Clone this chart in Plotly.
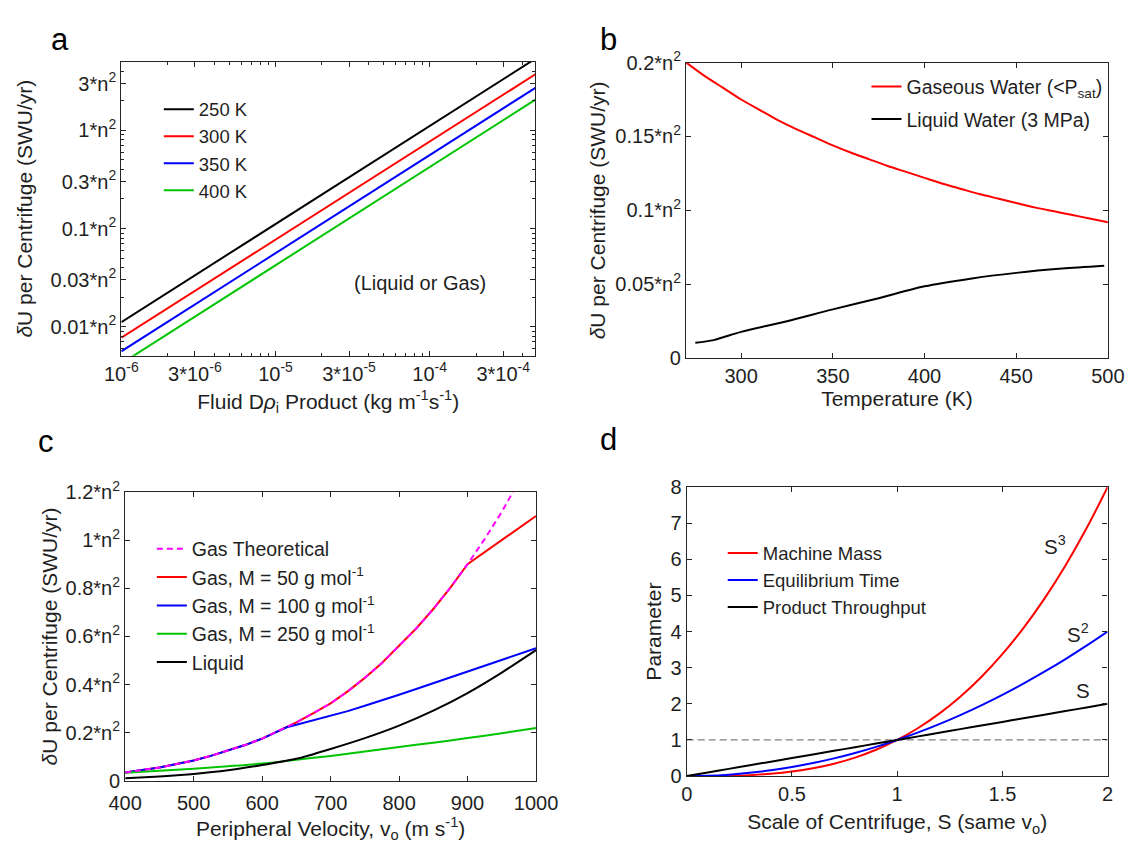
import math
import plotly.graph_objects as go

FONT = "Liberation Sans, Arial, sans-serif"
INK = "#1f1f1f"
W, H = 1146, 857

# ---------------- panel a: log-log, separative power vs D*rho ----------------
DRHO = [1e-6, 5e-4]
DU_250K = [0.0111, 5.55]
DU_300K = [0.0077, 3.85]
DU_350K = [0.0056, 2.80]
DU_400K = [0.0042, 2.12]
A_XTICKS = [1e-6, 3e-6, 1e-5, 3e-5, 1e-4, 3e-4]
A_XLABELS = ["10<sup>-6</sup>", "3*10<sup>-6</sup>", "10<sup>-5</sup>",
             "3*10<sup>-5</sup>", "10<sup>-4</sup>", "3*10<sup>-4</sup>"]
A_YTICKS = [0.01, 0.03, 0.1, 0.3, 1, 3]
A_YLABELS = ["0.01*n<sup>2</sup>", "0.03*n<sup>2</sup>", "0.1*n<sup>2</sup>",
             "0.3*n<sup>2</sup>", "1*n<sup>2</sup>", "3*n<sup>2</sup>"]

# ---------------- panel b: water, gas vs liquid ----------------
T_GAS = [270, 280, 290, 300, 310, 320, 330, 340, 350, 360, 370, 380,
         390, 400, 410, 420, 430, 440, 450, 460, 470, 480, 490, 500]
DU_GAS_WATER = [0.200, 0.191, 0.183, 0.175, 0.168, 0.161, 0.155, 0.1495, 0.144, 0.139,
                0.1345, 0.130, 0.126, 0.122, 0.118, 0.1145, 0.111, 0.108, 0.105, 0.102,
                0.0995, 0.097, 0.0945, 0.092]
T_LIQ = [275, 285, 300, 325, 350, 375, 400, 425, 450, 475, 498]
DU_LIQ_WATER = [0.0104, 0.0122, 0.0178, 0.0250, 0.0330, 0.0405, 0.0486, 0.0538, 0.0577, 0.0606, 0.0625]
B_YTICKS = [0, 0.05, 0.1, 0.15, 0.2]
B_YLABELS = ["0", "0.05*n<sup>2</sup>", "0.1*n<sup>2</sup>", "0.15*n<sup>2</sup>", "0.2*n<sup>2</sup>"]

# ---------------- panel c: peripheral velocity ----------------
V_THEORY = [400, 425, 450, 475, 500, 525, 550, 575, 600, 625, 650, 675, 700,
            725, 750, 775, 800, 825, 850, 875, 900, 925, 950, 975, 1000]
GAS_THEORY = [0.035, 0.045, 0.056, 0.070, 0.085, 0.104, 0.125, 0.149, 0.176, 0.208,
              0.243, 0.282, 0.322, 0.372, 0.428, 0.490, 0.560, 0.633, 0.714, 0.803,
              0.900, 1.004, 1.117, 1.240, 1.372]
V_M50 = [400, 425, 450, 475, 500, 525, 550, 575, 600, 625, 650, 675, 700,
         725, 750, 775, 800, 825, 850, 875, 900, 1000]
GAS_M50 = [0.035, 0.045, 0.056, 0.070, 0.085, 0.104, 0.125, 0.149, 0.176, 0.208,
           0.243, 0.282, 0.322, 0.372, 0.428, 0.490, 0.560, 0.633, 0.714, 0.803,
           0.900, 1.100]
V_M100 = [400, 425, 450, 475, 500, 525, 550, 575, 600, 625, 636, 650, 675, 700,
          725, 750, 775, 800, 825, 850, 875, 900, 925, 950, 975, 1000]
GAS_M100 = [0.035, 0.045, 0.056, 0.070, 0.085, 0.104, 0.125, 0.149, 0.176, 0.208,
            0.223, 0.233, 0.251, 0.270, 0.290, 0.312, 0.334, 0.358, 0.382, 0.406,
            0.431, 0.456, 0.480, 0.504, 0.527, 0.551]
V_STEP = [400, 450, 500, 550, 600, 650, 700, 750, 800, 850, 900, 950, 1000]
GAS_M250 = [0.034, 0.042, 0.051, 0.061, 0.072, 0.088, 0.104, 0.122, 0.141, 0.159, 0.178, 0.198, 0.220]
LIQUID = [0.011, 0.019, 0.029, 0.044, 0.066, 0.092, 0.133, 0.178, 0.230, 0.292, 0.365, 0.450, 0.543]
C_YTICKS = [0, 0.2, 0.4, 0.6, 0.8, 1.0, 1.2]
C_YLABELS = ["0", "0.2*n<sup>2</sup>", "0.4*n<sup>2</sup>", "0.6*n<sup>2</sup>",
             "0.8*n<sup>2</sup>", "1*n<sup>2</sup>", "1.2*n<sup>2</sup>"]

# ---------------- panel d: scaling with machine size ----------------
S_SCALE = [0, 0.1, 0.2, 0.3, 0.4, 0.5, 0.6, 0.7, 0.8, 0.9, 1.0,
           1.1, 1.2, 1.3, 1.4, 1.5, 1.6, 1.7, 1.8, 1.9, 2.0]
MACHINE_MASS = [0, 0.001, 0.008, 0.027, 0.064, 0.125, 0.216, 0.343, 0.512, 0.729, 1.0,
                1.331, 1.728, 2.197, 2.744, 3.375, 4.096, 4.913, 5.832, 6.859, 8.0]
EQUIL_TIME = [0, 0.01, 0.04, 0.09, 0.16, 0.25, 0.36, 0.49, 0.64, 0.81, 1.0,
              1.21, 1.44, 1.69, 1.96, 2.25, 2.56, 2.89, 3.24, 3.61, 4.0]
THROUGHPUT = [0, 0.1, 0.2, 0.3, 0.4, 0.5, 0.6, 0.7, 0.8, 0.9, 1.0,
              1.1, 1.2, 1.3, 1.4, 1.5, 1.6, 1.7, 1.8, 1.9, 2.0]
REF_LEVEL = [1, 1]
REF_SPAN = [0, 2]

RED, BLUE, GREEN, BLACK, MAGENTA = "#ff0000", "#0000ff", "#00c400", "#000000", "#ff00ff"
LW = 2


def dom_x(left, right):
    return [left / W, right / W]


def dom_y(top, bottom):
    return [1 - bottom / H, 1 - top / H]


def decade_minors(lo_exp, hi_exp, lo, hi, skip=(1,)):
    vals = []
    for e in range(lo_exp, hi_exp + 1):
        for m in range(1, 10):
            if m in skip:
                continue
            v = m * 10.0 ** e
            if lo <= v <= hi:
                vals.append(v)
    return vals


fig = go.Figure()

# panel a
for name, ys, col in [("250 K", DU_250K, BLACK), ("300 K", DU_300K, RED),
                      ("350 K", DU_350K, BLUE), ("400 K", DU_400K, GREEN)]:
    fig.add_trace(go.Scatter(x=DRHO, y=ys, mode="lines", name=name,
                             line=dict(color=col, width=LW),
                             xaxis="x", yaxis="y", legend="legend"))

# panel b
fig.add_trace(go.Scatter(x=T_GAS, y=DU_GAS_WATER, mode="lines",
                         name="Gaseous Water (&lt;P<sub>sat</sub>)",
                         line=dict(color=RED, width=LW, shape="spline", smoothing=0.6),
                         xaxis="x2", yaxis="y2", legend="legend2", legendgroup="gw"))
fig.add_trace(go.Scatter(x=T_LIQ, y=DU_LIQ_WATER, mode="lines",
                         name="Liquid Water (3 MPa)",
                         line=dict(color=BLACK, width=LW, shape="spline", smoothing=0.8),
                         xaxis="x2", yaxis="y2", legend="legend2", legendgroup="lw"))

# panel c (theoretical dashes drawn last so they sit on top)
fig.add_trace(go.Scatter(x=V_M50, y=GAS_M50, mode="lines",
                         name="Gas, M = 50 g mol<sup>-1</sup>", legendrank=2,
                         line=dict(color=RED, width=LW),
                         xaxis="x3", yaxis="y3", legend="legend3"))
fig.add_trace(go.Scatter(x=V_M100, y=GAS_M100, mode="lines",
                         name="Gas, M = 100 g mol<sup>-1</sup>", legendrank=3,
                         line=dict(color=BLUE, width=LW),
                         xaxis="x3", yaxis="y3", legend="legend3"))
fig.add_trace(go.Scatter(x=V_STEP, y=GAS_M250, mode="lines",
                         name="Gas, M = 250 g mol<sup>-1</sup>", legendrank=4,
                         line=dict(color=GREEN, width=LW, shape="spline", smoothing=0.8),
                         xaxis="x3", yaxis="y3", legend="legend3"))
fig.add_trace(go.Scatter(x=V_STEP, y=LIQUID, mode="lines",
                         name="Liquid", legendrank=5,
                         line=dict(color=BLACK, width=LW, shape="spline", smoothing=0.8),
                         xaxis="x3", yaxis="y3", legend="legend3"))
fig.add_trace(go.Scatter(x=V_THEORY, y=GAS_THEORY, mode="lines",
                         name="Gas Theoretical", legendrank=1,
                         line=dict(color=MAGENTA, width=LW, dash="6px,4px"),
                         xaxis="x3", yaxis="y3", legend="legend3"))

# panel d
fig.add_trace(go.Scatter(x=REF_SPAN, y=REF_LEVEL, mode="lines", showlegend=False,
                         line=dict(color="#808080", width=1.3, dash="7px,4px"),
                         xaxis="x4", yaxis="y4", hoverinfo="skip"))
for name, ys, col in [("Machine Mass", MACHINE_MASS, RED),
                      ("Equilibrium Time", EQUIL_TIME, BLUE),
                      ("Product Throughput", THROUGHPUT, BLACK)]:
    fig.add_trace(go.Scatter(x=S_SCALE, y=ys, mode="lines", name=name,
                             line=dict(color=col, width=LW, shape="spline"),
                             xaxis="x4", yaxis="y4", legend="legend4"))

tick_font = dict(family=FONT, size=20, color=INK)
title_font = dict(family=FONT, size=21, color=INK)


def axis(**kw):
    base = dict(showline=True, linecolor="#262626", linewidth=1.3, mirror="allticks",
                ticks="inside", ticklen=5, tickwidth=1, tickcolor="#262626",
                showgrid=False, zeroline=False, tickfont=tick_font)
    base.update(kw)
    return base


YTITLE = "<i>δ</i>U per Centrifuge (SWU/yr)"

fig.update_layout(
    width=W, height=H, margin=dict(l=0, r=0, t=0, b=0),
    paper_bgcolor="white", plot_bgcolor="white",
    font=dict(family=FONT, color=INK),
    xaxis=axis(type="log", domain=dom_x(108, 536.5), anchor="y",
               range=[-6, -3.315], tickmode="array", tickvals=A_XTICKS, ticktext=A_XLABELS,
               minor=dict(tickmode="array",
                          tickvals=decade_minors(-6, -4, 1e-6, 4.8e-4, skip=(1, 3)),
                          ticks="inside", ticklen=3, tickcolor="#262626"),
               title=dict(text="Fluid D<i>ρ</i><sub>i</sub> Product (kg m<sup>-1</sup>s<sup>-1</sup>)",
                          font=title_font, standoff=10)),
    yaxis=axis(type="log", domain=dom_y(49, 352), anchor="x",
               range=[-2.297, 0.702], tickmode="array", tickvals=A_YTICKS, ticktext=A_YLABELS,
               minor=dict(tickmode="array",
                          tickvals=decade_minors(-3, 0, 0.005, 5, skip=(1, 3)),
                          ticks="inside", ticklen=3, tickcolor="#262626"),
               title=dict(text=YTITLE, font=title_font, standoff=12)),
    xaxis2=axis(domain=dom_x(692.7, 1129.3), anchor="y2", range=[270, 500],
                tickmode="array", tickvals=[300, 350, 400, 450, 500],
                title=dict(text="Temperature (K)", font=title_font, standoff=4)),
    yaxis2=axis(domain=dom_y(50, 354.5), anchor="x2", range=[0, 0.2],
                tickmode="array", tickvals=B_YTICKS, ticktext=B_YLABELS,
                title=dict(text=YTITLE, font=title_font, standoff=3)),
    xaxis3=axis(domain=dom_x(112, 537.3), anchor="y3", range=[400, 1000],
                tickmode="array", tickvals=[400, 500, 600, 700, 800, 900, 1000],
                ticklabelstandoff=4,
                title=dict(text="Peripheral Velocity, v<sub>o</sub> (m s<sup>-1</sup>)",
                           font=title_font, standoff=7)),
    yaxis3=axis(domain=dom_y(492.3, 790), anchor="x3", range=[0, 1.2],
                tickmode="array", tickvals=C_YTICKS, ticktext=C_YLABELS,
                title=dict(text=YTITLE, font=title_font, standoff=2)),
    xaxis4=axis(domain=dom_x(693.3, 1129), anchor="y4", range=[0, 2],
                tickmode="array", tickvals=[0, 0.5, 1, 1.5, 2],
                title=dict(text="Scale of Centrifuge, S (same v<sub>o</sub>)",
                           font=title_font, standoff=10)),
    yaxis4=axis(domain=dom_y(487.3, 785), anchor="x4", range=[0, 8],
                tickmode="array", tickvals=[0, 1, 2, 3, 4, 5, 6, 7, 8],
                title=dict(text="Parameter", font=title_font, standoff=3)),
    legend=dict(x=146.8 / W, y=1 - 79 / H, xanchor="left", yanchor="top",
                bgcolor="rgba(0,0,0,0)", itemwidth=30,
                font=dict(family=FONT, size=18.5, color=INK)),
    legend2=dict(x=879.4 / W, y=1 - 55 / H, xanchor="left", yanchor="top",
                 bgcolor="rgba(0,0,0,0)", itemwidth=30, tracegroupgap=4,
                 font=dict(family=FONT, size=19.5, color=INK)),
    legend3=dict(x=139.6 / W, y=1 - 531 / H, xanchor="left", yanchor="top",
                 bgcolor="rgba(0,0,0,0)", itemwidth=30,
                 font=dict(family=FONT, size=19.5, color=INK)),
    legend4=dict(x=730.6 / W, y=1 - 536 / H, xanchor="left", yanchor="top",
                 bgcolor="rgba(0,0,0,0)", itemwidth=30,
                 font=dict(family=FONT, size=18.5, color=INK)),
)

annots = [
    dict(text="a", x=45 / W, y=1 - 26 / H),
    dict(text="b", x=612 / W, y=1 - 26 / H),
    dict(text="c", x=30 / W, y=1 - 440 / H),
    dict(text="d", x=612 / W, y=1 - 438 / H),
]
for a in annots:
    fig.add_annotation(xref="paper", yref="paper", showarrow=False,
                       xanchor="center", yanchor="middle",
                       font=dict(family=FONT, size=31, color=BLACK), **a)

# note placed in log-axis coordinates (log10 of the data values)
fig.add_annotation(xref="x", yref="y", x=math.log10(8.7e-5), y=math.log10(0.0279),
                   text="(Liquid or Gas)", showarrow=False,
                   xanchor="center", yanchor="middle",
                   font=dict(family=FONT, size=20, color=INK))
for txt, sx, sy in [("S<sup>3</sup>", 1.752, 6.40), ("S<sup>2</sup>", 1.858, 3.95), ("S", 1.884, 2.37)]:
    fig.add_annotation(xref="x4", yref="y4", x=sx, y=sy, text=txt, showarrow=False,
                       font=dict(family=FONT, size=20.5, color=INK))

fig.write_html("out.html")
